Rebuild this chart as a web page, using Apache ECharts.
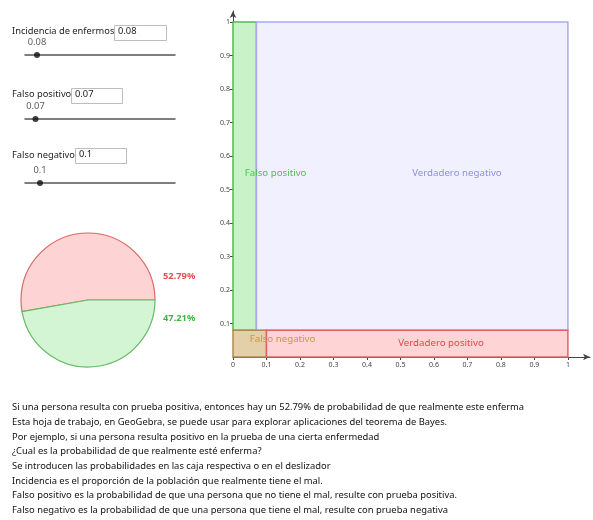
<!DOCTYPE html>
<html>
<head>
<meta charset="utf-8">
<script src="https://cdn.jsdelivr.net/npm/echarts@6/dist/echarts.min.js"></script>
<style>
  html, body { margin: 0; padding: 0; background: #fff; }
  #chart { width: 593px; height: 520px; }
</style>
</head>
<body>
<div id="chart"></div>
<script>
// sliders
const sliderNames = ['Incidencia de enfermos', 'Falso positivo', 'Falso negativo']
const sliderValues = [0.08, 0.07, 0.1]

// regions of the unit square
const regionNames = ['Falso positivo', 'Verdadero negativo', 'Falso negativo', 'Verdadero positivo']
const regionX0 = [0, 0.07, 0, 0.1]
const regionX1 = [0.07, 1, 0.1, 1]
const regionY0 = [0.08, 0.08, 0, 0]
const regionY1 = [1, 1, 0.08, 0.08]

// pie
const pieNames = ['Enfermo', 'Sano']
const pieValues = [52.79, 47.21]

// tick labels
const xTicks = [0, 0.1, 0.2, 0.3, 0.4, 0.5, 0.6, 0.7, 0.8, 0.9, 1]
const yTicks = [0.1, 0.2, 0.3, 0.4, 0.5, 0.6, 0.7, 0.8, 0.9, 1]

const textLines = [
  'Si una persona resulta con prueba positiva, entonces hay un ' + pieValues[0] + '% de probabilidad de que realmente este enferma',
  'Esta hoja de trabajo, en GeoGebra, se puede usar para explorar aplicaciones del teorema de Bayes.',
  'Por ejemplo, si una persona resulta positivo en la prueba de una cierta enfermedad',
  '¿Cual es la probabilidad de que realmente esté enferma?',
  'Se introducen las probabilidades en las caja respectiva o en el deslizador',
  'Incidencia es el proporción de la población que realmente tiene el mal.',
  'Falso positivo es la probabilidad de que una persona que no tiene el mal, resulte con prueba positiva.',
  'Falso negativo es la probabilidad de que una persona que tiene el mal, resulte con prueba negativa'
]

const FONT = '"Noto Sans", sans-serif'

const regionStyle = [
  { fill: '#c9f2c9', stroke: '#55b855', text: '#4cc24c', dx: 0, dy: -3 },
  { fill: '#f0f0ff', stroke: '#aaaaee', text: '#8f8fe6', dx: 0, dy: -3 },
  { fill: '#e3cfa8', stroke: '#b08a50', text: '#c8954a', dx: 0, dy: -4 },
  { fill: '#ffd4d4', stroke: '#e06464', text: '#e24848', dx: -19, dy: 0 }
]

// slider layout (one row per slider)
const sliderRows = [
  { lineY: 55, labelY: 33, boxX: 114, boxW: 52, boxY: 25 },
  { lineY: 119, labelY: 96, boxX: 71, boxW: 51, boxY: 88 },
  { lineY: 183, labelY: 157, boxX: 75, boxW: 51, boxY: 148 }
]

const chart = echarts.init(document.getElementById('chart'))

const grids = [{ left: 233, right: 3, top: 11, bottom: 163 }]
const xAxes = [{
  type: 'value', min: 0, max: 1.066, gridIndex: 0,
  axisLine: { onZero: false, lineStyle: { color: '#444', width: 1 }, symbol: ['none', 'arrow'], symbolSize: [5, 7] },
  axisTick: { customValues: xTicks, length: 3, lineStyle: { color: '#444' } },
  axisLabel: { customValues: xTicks, color: '#444', fontSize: 7, fontFamily: FONT, margin: 4 },
  splitLine: { show: false }
}]
const yAxes = [{
  type: 'value', min: 0, max: 1.033, gridIndex: 0,
  axisLine: { onZero: false, lineStyle: { color: '#444', width: 1 }, symbol: ['none', 'arrow'], symbolSize: [5, 7] },
  axisTick: { customValues: yTicks, length: 3, lineStyle: { color: '#444' } },
  axisLabel: { customValues: yTicks, color: '#444', fontSize: 7, fontFamily: FONT, margin: 3 },
  splitLine: { show: false }
}]

const series = [{
  type: 'custom',
  xAxisIndex: 0,
  yAxisIndex: 0,
  data: regionNames.map((n, i) => [regionX0[i], regionX1[i], regionY0[i], regionY1[i]]),
  renderItem: (params, api) => {
    const st = regionStyle[params.dataIndex]
    const p0 = api.coord([api.value(0), api.value(3)])
    const p1 = api.coord([api.value(1), api.value(2)])
    return {
      type: 'group',
      children: [
        {
          type: 'rect',
          shape: { x: p0[0], y: p0[1], width: p1[0] - p0[0], height: p1[1] - p0[1] },
          style: { fill: st.fill, stroke: st.stroke, lineWidth: 1.5 }
        },
        {
          type: 'text',
          z2: 20,
          x: (p0[0] + p1[0]) / 2 + st.dx,
          y: (p0[1] + p1[1]) / 2 + st.dy,
          style: {
            text: regionNames[params.dataIndex],
            fill: st.text,
            font: '9.7px ' + FONT,
            align: 'left',
            verticalAlign: 'middle'
          }
        }
      ]
    }
  }
}, {
  type: 'pie',
  center: [88, 300],
  radius: 67,
  startAngle: 0,
  clockwise: false,
  silent: true,
  label: { show: false },
  labelLine: { show: false },
  data: pieNames.map((n, i) => ({
    name: n,
    value: pieValues[i],
    itemStyle: i === 0
      ? { color: '#fdd3d3', borderColor: '#d86a6a', borderWidth: 1.2 }
      : { color: '#d4f5d4', borderColor: '#66bb66', borderWidth: 1.2 }
  }))
}]

const graphics = []

sliderNames.forEach((name, i) => {
  const row = sliderRows[i]
  const gi = i + 1
  grids.push({ left: 25, width: 150, top: row.lineY - 1, height: 1 })
  xAxes.push({
    type: 'value', min: 0, max: 1, gridIndex: gi,
    axisLine: { onZero: false, lineStyle: { color: '#555', width: 1.5 } },
    axisTick: { show: false }, axisLabel: { show: false }, splitLine: { show: false }
  })
  yAxes.push({ type: 'value', min: 0, max: 1, gridIndex: gi, show: false })
  series.push({
    type: 'scatter',
    xAxisIndex: gi,
    yAxisIndex: gi,
    symbolSize: 6,
    itemStyle: { color: '#111' },
    label: {
      show: true, position: 'top', distance: 5,
      formatter: p => String(p.value[0]),
      color: '#333', fontSize: 9.3, fontFamily: FONT
    },
    data: [[sliderValues[i], 0]]
  })
  graphics.push({
    type: 'text', left: 12, top: row.labelY - 6,
    style: { text: name, fill: '#222', font: '9.3px ' + FONT }
  })
  graphics.push({
    type: 'rect', left: row.boxX, top: row.boxY, z: 10,
    shape: { width: row.boxW, height: 15 },
    style: { fill: '#fff', stroke: '#bdbdbd', lineWidth: 1 }
  })
  graphics.push({
    type: 'text', left: row.boxX + 4, top: row.boxY + 2, z: 11,
    style: { text: String(sliderValues[i]), fill: '#222', font: '9.3px ' + FONT }
  })
})

graphics.push({
  type: 'text', left: 163, top: 272,
  style: { text: pieValues[0].toFixed(2) + '%', fill: '#e05050', font: 'bold 9.3px ' + FONT }
})
graphics.push({
  type: 'text', left: 163, top: 314,
  style: { text: pieValues[1].toFixed(2) + '%', fill: '#3fb53f', font: 'bold 9.3px ' + FONT }
})

textLines.forEach((line, i) => {
  graphics.push({
    type: 'text', left: 12, top: 403 + i * 14.7,
    style: { text: line, fill: '#111', font: '9.4px ' + FONT }
  })
})

chart.setOption({
  animation: false,
  grid: grids,
  xAxis: xAxes,
  yAxis: yAxes,
  series: series,
  graphic: graphics
})

window.addEventListener('resize', () => chart.resize())
</script>
</body>
</html>
